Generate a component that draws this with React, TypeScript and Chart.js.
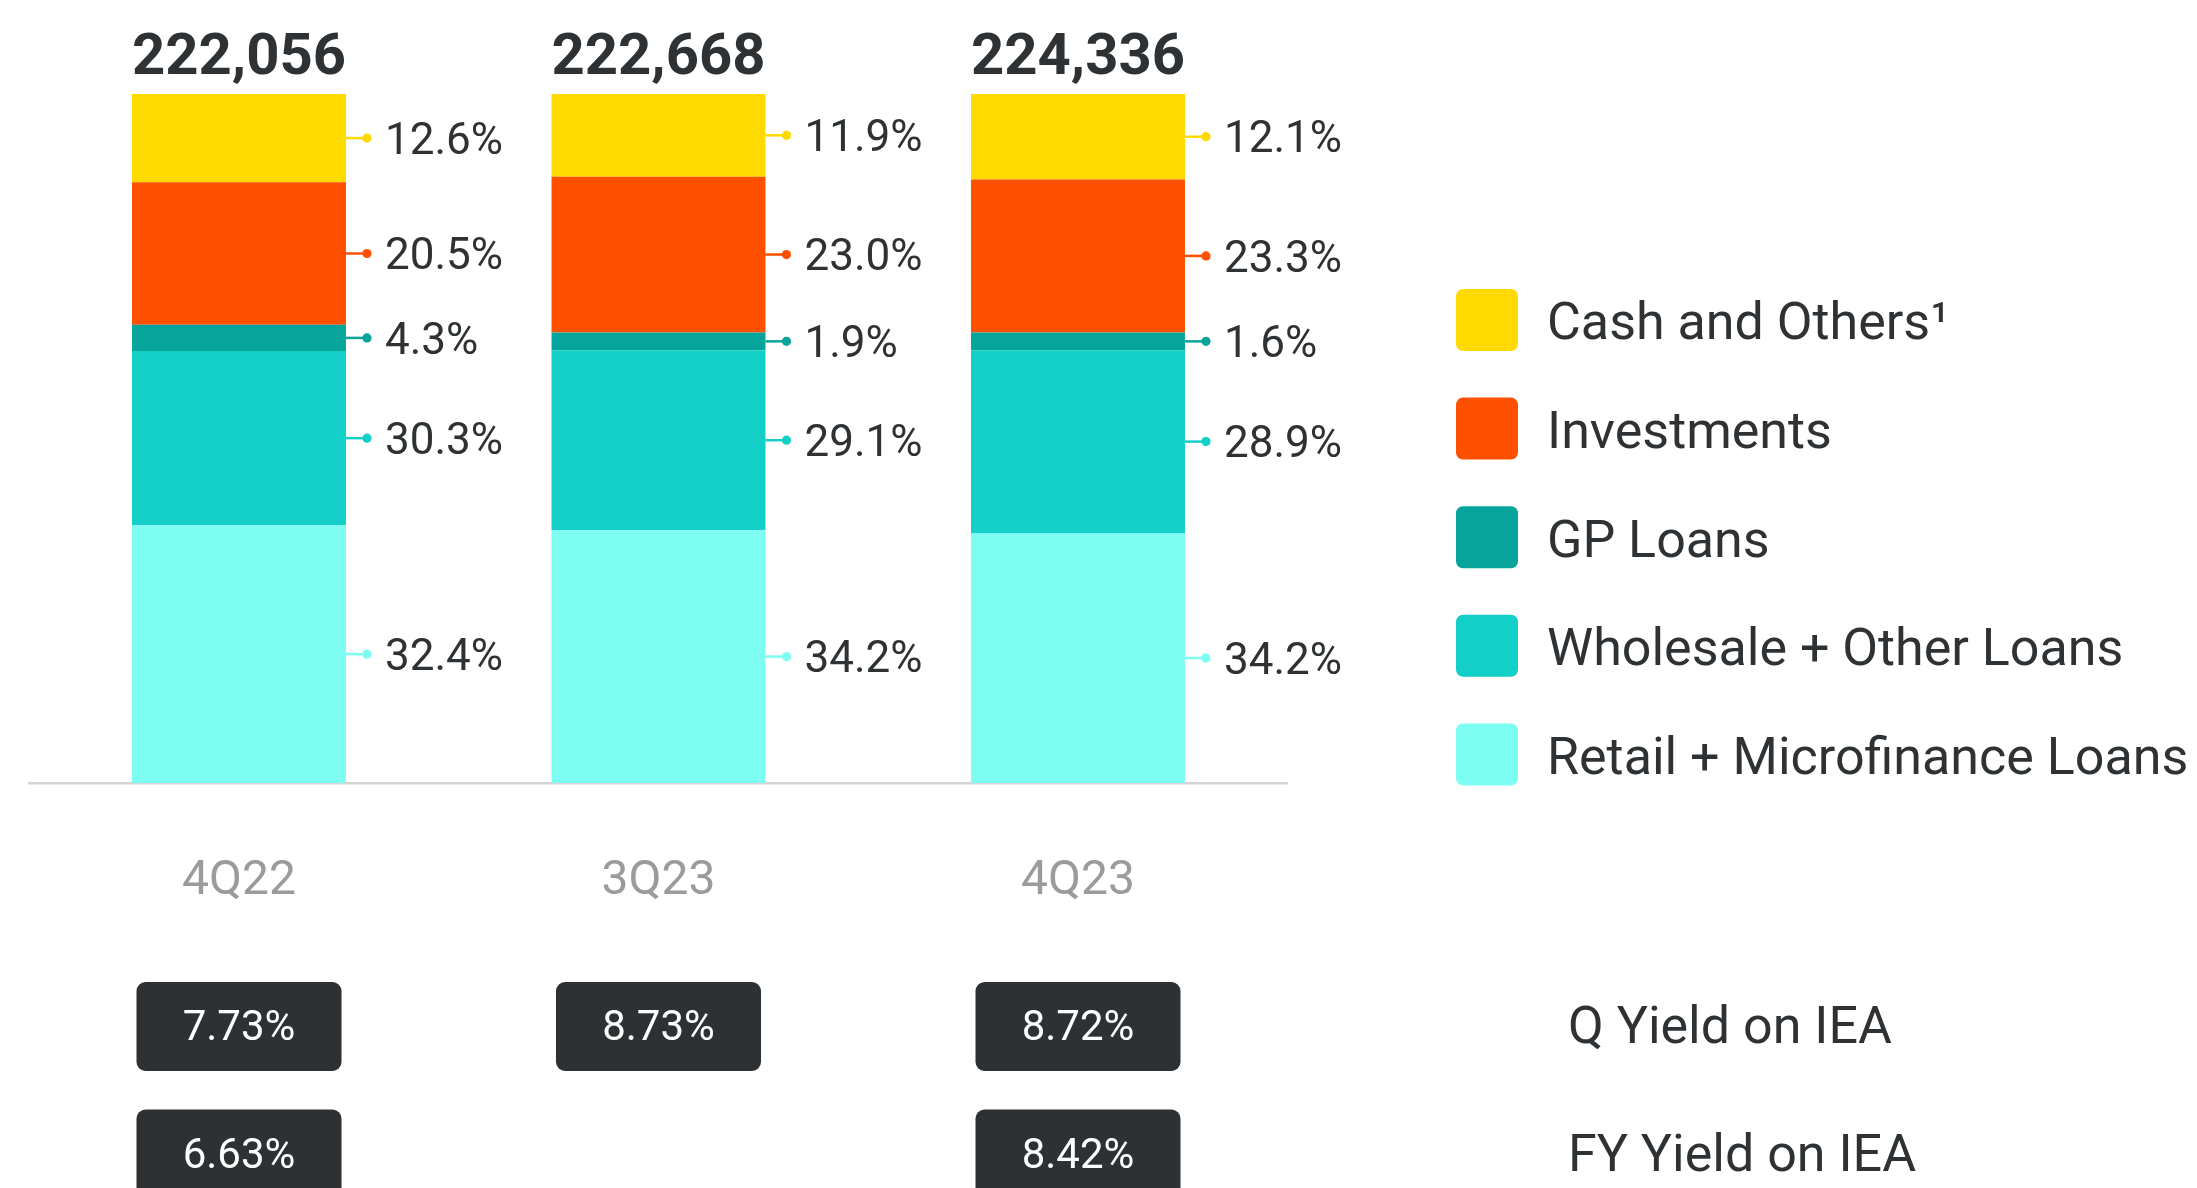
import React, { useEffect, useRef } from "react";
import { Chart, registerables } from "chart.js";

Chart.register(...registerables);

// ---------------- data ----------------
const categories = ["4Q22", "3Q23", "4Q23"];
const totals = ["222,056", "222,668", "224,336"];

// segment shares as drawn (bottom to top)
const retailShare = [37.4, 36.7, 36.3];
const wholesaleShare = [25.3, 26.1, 26.5];
const gpShare = [3.8, 2.6, 2.6];
const investmentsShare = [20.7, 22.6, 22.2];
const cashShare = [12.8, 12.0, 12.4];

// printed labels
const retailLabels = ["32.4%", "34.2%", "34.2%"];
const wholesaleLabels = ["30.3%", "29.1%", "28.9%"];
const gpLabels = ["4.3%", "1.9%", "1.6%"];
const investmentsLabels = ["20.5%", "23.0%", "23.3%"];
const cashLabels = ["12.6%", "11.9%", "12.1%"];

const seriesNames = [
  "Retail + Microfinance Loans",
  "Wholesale + Other Loans",
  "GP Loans",
  "Investments",
  "Cash and Others¹",
];
const seriesColors = ["#7EFDF2", "#13CFC8", "#07A49C", "#FF5000", "#FFDA00"];

const qYield = ["7.73%", "8.73%", "8.72%"];
const fyYield = ["6.63%", null, "8.42%"];
const yieldRowNames = ["Q Yield on IEA", "FY Yield on IEA"];

// ---------------- styles ----------------
const FONT = "Roboto";
const DARK = "#2E3234";
const GRAY = "#9B9B9B";

function capText(
  ctx: CanvasRenderingContext2D,
  text: string,
  x: number,
  cy: number,
  size: number,
  align: CanvasTextAlign,
  weight = "normal"
) {
  ctx.font = `${weight} ${size}px ${FONT}`;
  ctx.textAlign = align;
  ctx.textBaseline = "alphabetic";
  ctx.fillText(text, x, cy + size * 0.711 * 0.5);
}

const annotationsPlugin = {
  id: "annotations",
  afterDatasetsDraw(chart: any) {
    const ctx: CanvasRenderingContext2D = chart.ctx;
    const labelSets = (chart.data.datasets as any[]).map((d) => d.pctLabels as string[]);
    ctx.save();

    // segment labels with connectors
    chart.data.datasets.forEach((ds: any, i: number) => {
      const meta = chart.getDatasetMeta(i);
      meta.data.forEach((el: any, j: number) => {
        const right = el.x + el.width / 2;
        const cy = (el.y + el.base) / 2;
        ctx.strokeStyle = ds.backgroundColor;
        ctx.fillStyle = ds.backgroundColor;
        ctx.lineWidth = 2.5;
        ctx.beginPath();
        ctx.moveTo(right, cy);
        ctx.lineTo(right + 21, cy);
        ctx.stroke();
        ctx.beginPath();
        ctx.arc(right + 21, cy, 4.6, 0, Math.PI * 2);
        ctx.fill();
        ctx.fillStyle = DARK;
        capText(ctx, labelSets[i][j], right + 39, cy, 44, "left");
      });
    });

    // totals above bars
    const topMeta = chart.getDatasetMeta(chart.data.datasets.length - 1);
    topMeta.data.forEach((el: any, j: number) => {
      ctx.fillStyle = DARK;
      capText(ctx, totals[j], el.x, el.y - 40.5, 58, "center", "bold");
    });

    // yield badges
    const rows = [qYield, fyYield];
    const rowTops = [982, 1109.5];
    rows.forEach((vals, r) => {
      topMeta.data.forEach((el: any, j: number) => {
        const v = vals[j];
        if (!v) return;
        const w = 205;
        const h = 89;
        ctx.fillStyle = "#2D3133";
        ctx.beginPath();
        (ctx as any).roundRect(el.x - w / 2, rowTops[r], w, h, 9);
        ctx.fill();
        ctx.fillStyle = "#FFFFFF";
        capText(ctx, v, el.x, rowTops[r] + h / 2 - 1, 42, "center");
      });
      ctx.fillStyle = DARK;
      capText(ctx, yieldRowNames[r], 1568, rowTops[r] + 43, 52, "left");
    });

    // legend (top item first)
    const n = chart.data.datasets.length;
    for (let k = 0; k < n; k++) {
      const ds: any = chart.data.datasets[n - 1 - k];
      const top = 289 + k * 108.6;
      ctx.fillStyle = ds.backgroundColor;
      ctx.beginPath();
      (ctx as any).roundRect(1456, top, 62, 62, 7);
      ctx.fill();
      ctx.fillStyle = DARK;
      capText(ctx, ds.label, 1547, top + 32, 52, "left");
    }

    ctx.restore();
  },
};

export default function App() {
  const canvasRef = useRef<HTMLCanvasElement | null>(null);

  useEffect(() => {
    const canvas = canvasRef.current;
    if (!canvas) return;
    Chart.defaults.font.family = FONT;

    const shares = [retailShare, wholesaleShare, gpShare, investmentsShare, cashShare];
    const labels = [retailLabels, wholesaleLabels, gpLabels, investmentsLabels, cashLabels];

    const chart = new Chart(canvas, {
      type: "bar",
      data: {
        labels: categories,
        datasets: shares.map((s, i) => ({
          label: seriesNames[i],
          data: s,
          backgroundColor: seriesColors[i],
          borderWidth: 0,
          categoryPercentage: 1,
          barPercentage: 0.51,
          pctLabels: labels[i],
        })) as any,
      },
      options: {
        animation: false,
        responsive: false,
        events: [],
        layout: {
          padding: { left: 29.25, right: 909.25, top: 94, bottom: 207 },
        },
        plugins: {
          legend: { display: false },
          tooltip: { enabled: false },
          title: { display: false },
        },
        scales: {
          x: {
            stacked: true,
            z: 1,
            grid: { display: false, drawTicks: false },
            border: { display: true, color: "#D4D4D4", width: 2.5 },
            ticks: {
              color: GRAY,
              font: { size: 48, family: FONT, lineHeight: 1.2 },
              padding: 70.2,
            },
          },
          y: {
            stacked: true,
            display: false,
            min: 0,
            max: 100,
          },
        },
      },
      plugins: [annotationsPlugin],
    });

    return () => chart.destroy();
  }, []);

  return (
    <div
      style={{
        position: "fixed",
        left: 0,
        top: 0,
        width: 2197,
        height: 1188,
        background: "#FFFFFF",
        overflow: "hidden",
      }}
    >
      <canvas ref={canvasRef} width={2197} height={1188} style={{ display: "block" }} />
    </div>
  );
}
